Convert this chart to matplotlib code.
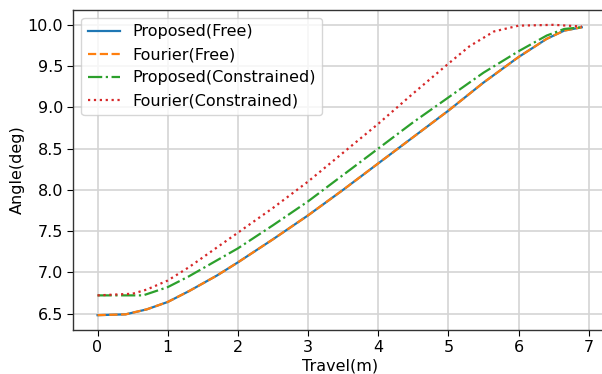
import matplotlib
matplotlib.use("Agg")
import matplotlib.pyplot as plt

# Proposed / Fourier (Free)
free_x = [0, 0.4, 0.7, 1.0, 1.3, 1.7, 2.0, 2.5, 3.0, 3.5, 4.0, 4.5, 5.0, 5.5, 6.0, 6.4, 6.65, 6.9]
proposed_free = [6.48, 6.49, 6.55, 6.64, 6.77, 6.96, 7.12, 7.40, 7.69, 8.00, 8.32, 8.64, 8.96, 9.30, 9.61, 9.83, 9.93, 9.97]
fourier_free = [6.48, 6.49, 6.55, 6.64, 6.77, 6.96, 7.12, 7.40, 7.69, 8.00, 8.32, 8.64, 8.96, 9.30, 9.61, 9.83, 9.93, 9.97]

# Proposed (Constrained)
pc_x = [0, 0.4, 0.65, 1.0, 1.3, 2.0, 2.5, 3.0, 3.5, 4.0, 4.5, 5.0, 5.5, 6.0, 6.4, 6.65, 6.9]
proposed_con = [6.72, 6.72, 6.72, 6.82, 6.95, 7.29, 7.57, 7.86, 8.18, 8.50, 8.82, 9.12, 9.42, 9.68, 9.87, 9.95, 9.97]

# Fourier (Constrained)
fc_x = [0, 0.5, 0.7, 1.0, 1.3, 2.0, 2.5, 3.0, 3.5, 4.0, 4.5, 5.0, 5.3, 5.65, 6.0, 6.5, 6.9]
fourier_con = [6.72, 6.74, 6.79, 6.90, 7.06, 7.48, 7.78, 8.10, 8.45, 8.80, 9.17, 9.53, 9.74, 9.92, 9.99, 10.0, 9.98]

labels = ["Proposed(Free)", "Fourier(Free)", "Proposed(Constrained)", "Fourier(Constrained)"]
xticks = [0, 1, 2, 3, 4, 5, 6, 7]
yticks = [6.5, 7.0, 7.5, 8.0, 8.5, 9.0, 9.5, 10.0]

fs = 11.5
fig = plt.figure(figsize=(6.02, 3.74), dpi=100)
ax = fig.add_axes([0.1218, 0.1176, 0.8848, 0.8557])

lw = 1.6
ax.plot(free_x, proposed_free, color="tab:blue", ls="-", lw=lw, label=labels[0])
ax.plot(free_x, fourier_free, color="tab:orange", ls="--", lw=lw, label=labels[1])
ax.plot(pc_x, proposed_con, color="tab:green", ls="-.", lw=lw, label=labels[2])
ax.plot(fc_x, fourier_con, color="tab:red", ls=":", lw=lw, label=labels[3])

ax.set_xlim(-0.345, 7.245)
ax.set_ylim(6.30, 10.18)
ax.set_xticks(xticks)
ax.set_yticks(yticks)
ax.set_yticklabels([f"{v:.1f}" for v in yticks])
ax.tick_params(labelsize=fs, length=4)
ax.grid(True, color="#d4d4d4", lw=1.2)
ax.set_axisbelow(True)
for s in ax.spines.values():
    s.set_color("#333333")
    s.set_linewidth(1.0)

ax.set_xlabel("Travel(m)", fontsize=fs, labelpad=2)
ax.set_ylabel("Angle(deg)", fontsize=fs, labelpad=2)
ax.legend(loc="upper left", fontsize=fs, handlelength=2.0)

fig.savefig("out.png", dpi=100)
